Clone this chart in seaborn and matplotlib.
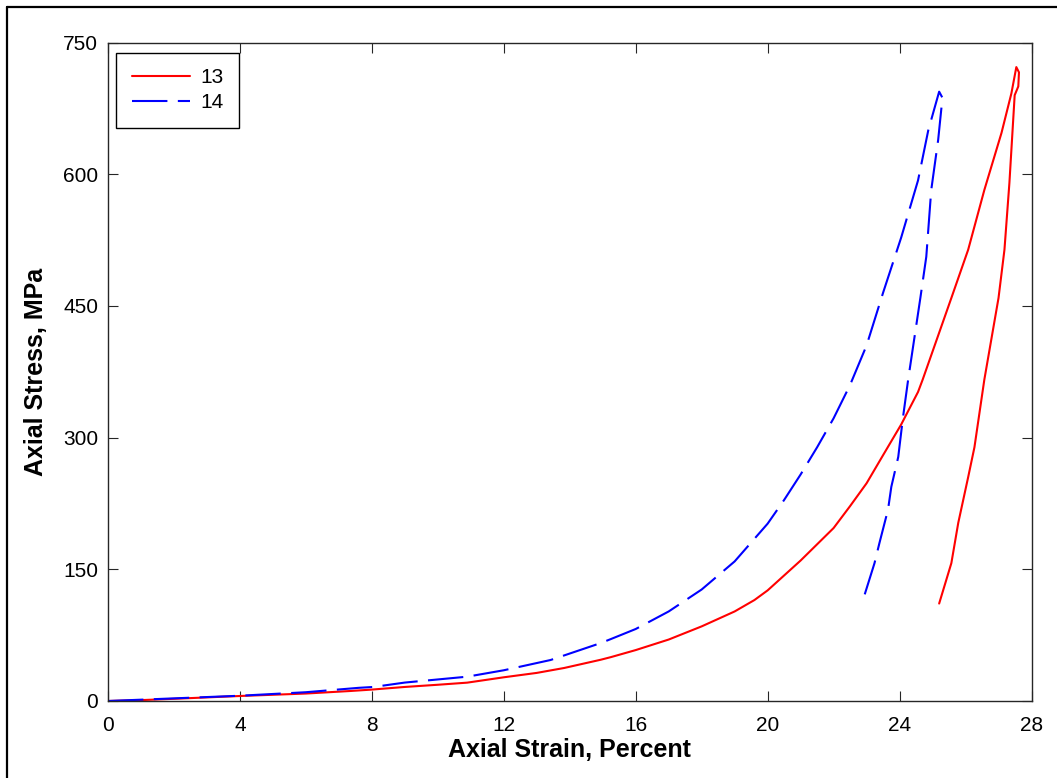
import matplotlib
matplotlib.use("Agg")
import matplotlib.pyplot as plt
from matplotlib.lines import Line2D
import seaborn as sns
import pandas as pd

# Test 13 (red, solid): loading then unloading
strain_13 = [0, 1, 2, 4, 6, 7.35, 8, 9, 10, 10.89, 12, 13, 13.83, 14.94, 15.25, 16,
             17, 18, 19, 19.6, 20.0, 21.0, 22.0, 22.5, 23.0, 23.5, 24.05,
             24.56, 24.7, 25.57, 26.08, 26.57, 27.09, 27.39, 27.54, 27.62, 27.6, 27.49,
             27.33, 27.18, 27.0, 26.57, 26.27, 26.08, 25.78, 25.57, 25.2]
stress_13 = [0, 1, 2.5, 5.7, 8.5, 11.4, 13, 16, 18.5, 20.9, 27, 32, 37.6, 47, 50, 58,
             70, 85, 102, 115, 126, 160, 197, 222, 248, 280, 315,
             352, 366, 459, 514, 582, 647, 692, 722, 716, 700, 690,
             590, 514, 459, 366, 289, 255, 203, 157, 111]

# Test 14 (blue, dashed): loading then unloading
strain_14 = [0, 1, 2, 4, 6, 7.6, 8.05, 9, 10.89, 12, 13.42, 14.94, 15.25, 16, 17,
             18, 19, 20, 20.5, 21, 21.5, 22, 22.5, 23, 23.5,
             24.05, 24.56, 24.87, 25.2, 25.3, 25.17, 24.96, 24.81, 24.63, 24.26, 24.1,
             23.96, 23.75, 23.65, 23.39, 23.24, 22.94]
stress_14 = [0, 1.5, 3, 6, 10, 15, 16, 21, 27.7, 35, 46.7, 66, 70.6, 82, 102,
             127, 159, 202, 229, 258, 289, 322, 360, 405, 465,
             528, 593, 650, 694, 687, 639, 582, 506, 459, 366, 322,
             278, 244, 218, 180, 157, 121]

labels = ["13", "14"]
x_ticks = [0, 4, 8, 12, 16, 20, 24, 28]
y_ticks = [0, 150, 300, 450, 600, 750]

sns.set_style("white")
plt.rcParams["font.family"] = ["Liberation Sans", "DejaVu Sans"]

W, H = 1057, 778
fig = plt.figure(figsize=(W / 100, H / 100), dpi=100)
ax = fig.add_axes([108 / W, 1 - 701 / H, (1031.5 - 108) / W, (701 - 42.5) / H])

df13 = pd.DataFrame({"strain": strain_13, "stress": stress_13})
df14 = pd.DataFrame({"strain": strain_14, "stress": stress_14})

sns.lineplot(data=df13, x="strain", y="stress", sort=False, estimator=None,
             color="#ff0000", lw=1.5, label=labels[0], ax=ax)
sns.lineplot(data=df14, x="strain", y="stress", sort=False, estimator=None,
             color="#0000ff", lw=1.5, linestyle=(0, (17, 5)), label=labels[1], ax=ax)

ax.set_xlim(0, 28)
ax.set_ylim(0, 750)
ax.set_xticks(x_ticks)
ax.set_yticks(y_ticks)
ax.tick_params(direction="in", length=7, width=0.8, color="#262626",
               top=True, right=True, bottom=True, left=True, labelsize=15,
               labelcolor="black")
ax.tick_params(axis="x", pad=11)
ax.tick_params(axis="y", pad=7)
for sp in ax.spines.values():
    sp.set_visible(True)
    sp.set_color("#262626")
    sp.set_linewidth(1.0)

ax.set_xlabel("Axial Strain, Percent", fontsize=18, fontweight="bold", labelpad=2,
              color="black")
ax.set_ylabel("Axial Stress, MPa", fontsize=18, fontweight="bold", labelpad=11,
              color="black")

leg = ax.legend(loc="upper left", bbox_to_anchor=(8 / 923.5, 1 - 10 / 658.5),
                borderaxespad=0, fontsize=15, handlelength=2.8, handletextpad=0.5,
                borderpad=0.75, labelspacing=0.3, frameon=True, fancybox=False)
leg.get_frame().set_edgecolor("black")
leg.get_frame().set_linewidth(1.0)
leg.get_frame().set_alpha(1)
for t in leg.get_texts():
    t.set_color("black")

# outer frame (top and left edges)
fig.add_artist(Line2D([7 / W, 1], [1 - 7 / H, 1 - 7 / H], transform=fig.transFigure,
                      color="black", lw=1.6))
fig.add_artist(Line2D([7 / W, 7 / W], [0, 1 - 7 / H], transform=fig.transFigure,
                      color="black", lw=1.6))

fig.savefig("out.png", dpi=100)
